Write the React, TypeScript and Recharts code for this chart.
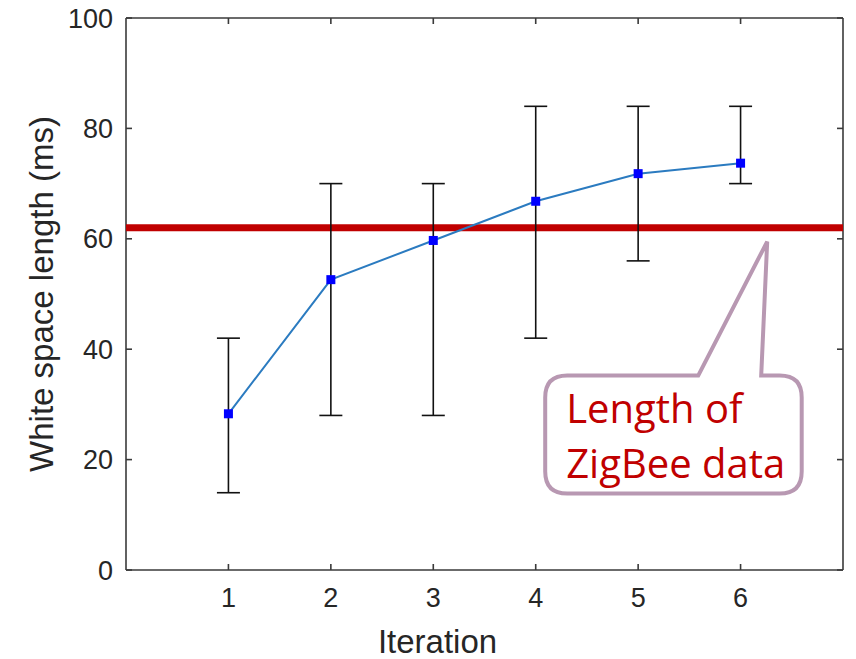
import React from 'react';
import { LineChart, Line, XAxis, YAxis, ErrorBar, ReferenceLine, ReferenceDot } from 'recharts';

// values
const iterations = [1, 2, 3, 4, 5, 6];
const meanLength = [28.3, 52.6, 59.7, 66.8, 71.8, 73.7];
const lowerBound = [14, 28, 28, 42, 56, 70];
const upperBound = [42, 70, 70, 84, 84, 84];
const xTicks = [1, 2, 3, 4, 5, 6];
const yTicks = [0, 20, 40, 60, 80, 100];
const xDomain = [0, 7];
const yDomain = [0, 100];
const zigbeeLength = 62;
const calloutLines = ['Length of', 'ZigBee data'];
const calloutAnchor = { x: 6.26, y: 59.5 };

const data = iterations.map((it, i) => ({
  iter: it,
  mean: meanLength[i],
  err: [meanLength[i] - lowerBound[i], upperBound[i] - meanLength[i]],
}));

const AXIS = '#3a3a3a';
const TICK_FONT = { fontSize: 27, fill: '#262626' };

const SquareDot = (props: any) => {
  const { cx, cy } = props;
  if (cx == null || cy == null) return null;
  return <rect x={cx - 4.5} y={cy - 4.5} width={9} height={9} fill="#0000ff" />;
};

// small inward tick mark (MATLAB style) on any side of the box
const TickMark = (props: any) => {
  const { cx, cy, side } = props;
  if (cx == null || cy == null) return null;
  const n = 6;
  const end =
    side === 'bottom' ? [cx, cy - n] : side === 'top' ? [cx, cy + n] : side === 'left' ? [cx + n, cy] : [cx - n, cy];
  return <line x1={cx} y1={cy} x2={end[0]} y2={end[1]} stroke={AXIS} strokeWidth={1.6} />;
};

// speech-bubble callout, drawn relative to the anchored tip
const Callout = (props: any) => {
  const { cx, cy } = props;
  if (cx == null || cy == null) return null;
  const L = cx - 222, R = cx + 34.5, T = cy + 134, B = cy + 252, r = 22;
  const d = [
    `M ${cx - 69} ${T}`,
    `L ${cx} ${cy}`,
    `L ${cx - 6} ${T}`,
    `L ${R - r} ${T}`,
    `Q ${R} ${T} ${R} ${T + r}`,
    `L ${R} ${B - r}`,
    `Q ${R} ${B} ${R - r} ${B}`,
    `L ${L + r} ${B}`,
    `Q ${L} ${B} ${L} ${B - r}`,
    `L ${L} ${T + r}`,
    `Q ${L} ${T} ${L + r} ${T}`,
    'Z',
  ].join(' ');
  return (
    <g>
      <path d={d} fill="#ffffff" stroke="#b898b2" strokeWidth={4} strokeLinejoin="miter" />
      {calloutLines.map((t, i) => (
        <text key={t} x={cx - 201} y={cy + 181.5 + i * 55} fill="#c00000" fontSize={40} fontFamily="'Open Sans', sans-serif">
          {t}
        </text>
      ))}
    </g>
  );
};

export default function App() {
  const [x0, x1] = xDomain;
  const [y0, y1] = yDomain;
  return (
    <div style={{ position: 'absolute', left: 0, top: 0, background: '#fff', fontFamily: "'Liberation Sans', Arial, sans-serif" }}>
      <LineChart width={856} height={659} data={data} margin={{ top: 18, right: 13, bottom: 0, left: 36 }}>
        <XAxis
          dataKey="iter"
          type="number"
          domain={xDomain}
          ticks={xTicks}
          height={89}
          axisLine={false}
          tickLine={false}
          tickSize={-6}
          tickMargin={24}
          tick={TICK_FONT}
          label={{ value: 'Iteration', position: 'insideBottom', offset: 6, dx: -47, fontSize: 33, fill: '#262626' }}
        />
        <YAxis
          type="number"
          domain={yDomain}
          ticks={yTicks}
          width={90}
          axisLine={false}
          tickLine={false}
          tickSize={-6}
          tickMargin={19}
          tick={TICK_FONT}
          label={{ value: 'White space length (ms)', angle: -90, position: 'insideLeft', offset: 5, fontSize: 33, fill: '#262626', style: { textAnchor: 'middle' } }}
        />
        {/* plot box */}
        <ReferenceLine y={y0} stroke={AXIS} strokeWidth={1.6} ifOverflow="visible" />
        <ReferenceLine y={y1} stroke={AXIS} strokeWidth={1.6} ifOverflow="visible" />
        <ReferenceLine x={x0} stroke={AXIS} strokeWidth={1.6} ifOverflow="visible" />
        <ReferenceLine x={x1} stroke={AXIS} strokeWidth={1.6} ifOverflow="visible" />
        {xTicks.map((t) => (
          <ReferenceDot key={`b${t}`} x={t} y={y0} r={1} ifOverflow="visible" shape={<TickMark side="bottom" />} />
        ))}
        {xTicks.map((t) => (
          <ReferenceDot key={`t${t}`} x={t} y={y1} r={1} ifOverflow="visible" shape={<TickMark side="top" />} />
        ))}
        {yTicks.map((t) => (
          <ReferenceDot key={`l${t}`} x={x0} y={t} r={1} ifOverflow="visible" shape={<TickMark side="left" />} />
        ))}
        {yTicks.map((t) => (
          <ReferenceDot key={`r${t}`} x={x1} y={t} r={1} ifOverflow="visible" shape={<TickMark side="right" />} />
        ))}
        <ReferenceLine y={zigbeeLength} stroke="#c00000" strokeWidth={7} />
        <Line
          type="linear"
          dataKey="mean"
          stroke="#2b7bc0"
          strokeWidth={2}
          dot={<SquareDot />}
          activeDot={false}
          isAnimationActive={false}
        >
          <ErrorBar dataKey="err" direction="y" width={11.5} stroke="#111" strokeWidth={1.6} isAnimationActive={false} />
        </Line>
        <ReferenceDot x={calloutAnchor.x} y={calloutAnchor.y} r={1} shape={<Callout />} ifOverflow="visible" />
      </LineChart>
    </div>
  );
}
